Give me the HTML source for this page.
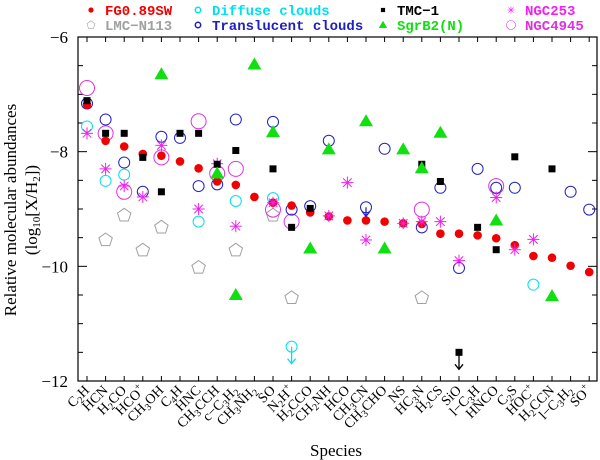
<!DOCTYPE html>
<html><head><meta charset="utf-8"><style>
body{margin:0;background:#fff}
svg{display:block}
.lg{font-family:"Liberation Mono",monospace;font-weight:bold;font-size:14px}
.ax{font-family:"Liberation Serif",serif}
</style></head><body>
<svg id="chart" width="600" height="460" xmlns="http://www.w3.org/2000/svg"></svg>
<script>
const categories=[["C",["2","sub"],"H"],["HCN"],["H",["2","sub"],"CO"],["HCO",["+","sup"]],["CH",["3","sub"],"OH"],["C",["4","sub"],"H"],["HNC"],["CH",["3","sub"],"CCH"],["c\u2212C",["3","sub"],"H",["2","sub"]],["CH",["3","sub"],"NH",["2","sub"]],["SO"],["N",["2","sub"],"H",["+","sup"]],["H",["2","sub"],"CCO"],["CH",["2","sub"],"NH"],["HCO"],["CH",["3","sub"],"CN"],["CH",["3","sub"],"CHO"],["NS"],["HC",["3","sub"],"N"],["H",["2","sub"],"CS"],["SiO"],["l\u2212C",["3","sub"],"H"],["HNCO"],["C",["2","sub"],"S"],["HOC",["+","sup"]],["H",["2","sub"],"CCN"],["l\u2212C",["3","sub"],"H",["2","sub"]],["SO",["+","sup"]]];
const N=null;
const fgValues=[-7.18,-7.81,-7.91,-8.04,-8.07,-8.17,-8.29,-8.52,-8.58,-8.79,-8.89,-8.94,-9.06,-9.13,-9.20,-9.20,-9.22,-9.25,-9.26,-9.43,-9.43,-9.46,-9.51,-9.63,-9.82,-9.85,-9.99,-10.10];
const lmcValues=[N,-9.54,-9.11,-9.72,-9.32,N,-10.02,N,-9.72,N,-9.11,-10.55,N,N,N,N,N,N,-10.55,N,N,N,N,N,N,N,N,N];
const diffuseValues=[-7.56,-8.51,-8.40,N,N,N,-9.22,N,-8.86,N,-8.81,-11.4,N,N,N,N,N,N,N,N,N,N,N,N,-10.32,N,N,N];
const translucentValues=[-7.16,-7.44,-8.19,-8.70,-7.74,-7.76,-8.60,-8.57,-7.44,N,-7.48,-9.01,-8.95,-7.81,N,-8.97,-7.95,N,-9.32,-8.63,-10.03,-8.30,-8.63,-8.63,N,N,-8.70,-9.01];
const tmcValues=[-7.11,-7.68,-7.68,-8.10,-8.70,-7.68,-7.68,-8.22,-7.98,N,-8.30,-9.32,-8.99,N,N,N,N,N,-8.22,-8.52,-11.5,-9.32,-9.71,-8.09,N,-8.30,N,N];
const sgrValues=[N,N,N,N,-6.65,N,N,-8.38,-10.5,-6.48,-7.66,N,-9.69,-7.96,N,-7.47,-9.69,-7.96,-8.29,-7.67,N,N,-9.20,N,N,-10.52,N,N];
const ngc253Values=[-7.68,-8.30,-8.60,-8.79,-7.89,N,-9.00,-8.21,-9.30,N,-8.89,N,N,-9.12,-8.54,-9.54,N,-9.25,-9.22,-9.22,-9.90,N,-8.80,-9.71,-9.53,N,N,N];
const ngc4945Values=[-6.89,-7.68,-8.70,N,-8.10,N,-7.47,-8.38,-8.30,N,-9.01,-9.22,N,N,N,N,N,N,-9.01,N,N,N,-8.60,N,N,N,N,N];
const upperLimits=[["diffuse",11],["tmc",20],["translucent",15]];
const yTicks=[-6,-8,-10,-12];

const svg=document.getElementById('chart');const NS="http://www.w3.org/2000/svg";
const L=78,R=597,T=37,B=381;
const xs=i=>87+i*18.6;
const ys=v=>T+(-6-v)*(B-T)/6;
function mk(tag,at,parent){const e=document.createElementNS(NS,tag);for(const k in at)e.setAttribute(k,at[k]);(parent||svg).appendChild(e);return e;}

// frame
let fr=mk('rect',{x:L,y:T,width:R-L,height:B-T,fill:'none',stroke:'#000','stroke-width':1.2});


for(let v=-6;v>=-12;v-=0.5){const big=Number.isInteger(v/2*1)&&v%2===0;const len=big?9:5;
 mk('line',{x1:L,x2:L+len,y1:ys(v),y2:ys(v),stroke:'#000'});mk('line',{x1:R,x2:R-len,y1:ys(v),y2:ys(v),stroke:'#000'});}
yTicks.forEach(v=>{const t=mk('text',{x:L-10,y:ys(v)+6,'text-anchor':'end','font-size':17,class:'ax'});t.textContent='\u2212'+Math.abs(v);
 
 });
categories.forEach((c,i)=>{const x=xs(i);
 mk('line',{x1:x,x2:x,y1:B,y2:B-5,stroke:'#000'});mk('line',{x1:x,x2:x,y1:T,y2:T+5,stroke:'#000'});
 const t=mk('text',{x:x+3,y:B+10,'text-anchor':'end','font-size':14,class:'ax',transform:`rotate(-45 ${x+3} ${B+10})`});
 
 
 c.forEach(p=>{const s=document.createElementNS(NS,'tspan');
  if(typeof p==='string'){s.textContent=p;}else{s.textContent=p[0];s.setAttribute('font-size',10);s.setAttribute('baseline-shift',p[1]==='sub'?'-3':'6');}
  t.appendChild(s);});
});
let xt=mk('text',{x:336,y:456,'text-anchor':'middle','font-size':17,class:'ax'});xt.textContent='Species';


let yt=mk('text',{transform:'translate(16,210) rotate(-90)','text-anchor':'middle','font-size':17,class:'ax'});yt.textContent='Relative molecular abundances';


let yt2=mk('text',{transform:'translate(37,210) rotate(-90)','text-anchor':'middle','font-size':17,class:'ax'});
yt2.innerHTML='(log<tspan font-size="11" baseline-shift="-3">10</tspan>[X/H<tspan font-size="11" baseline-shift="-3">2</tspan>])';



function star(g,x,y,c){for(let a=0;a<4;a++){const ang=a*Math.PI/4;mk('line',{x1:x-6*Math.cos(ang),y1:y-6*Math.sin(ang),x2:x+6*Math.cos(ang),y2:y+6*Math.sin(ang),stroke:c,'stroke-width':1},g);}}
function pent(g,x,y,r,c){let p=[];for(let k=0;k<5;k++){const a=-Math.PI/2+k*2*Math.PI/5;p.push((x+r*Math.cos(a)).toFixed(1)+','+(y+r*Math.sin(a)).toFixed(1));}mk('polygon',{points:p.join(' '),fill:'none',stroke:c,'stroke-width':1},g);}
const marks={
 fg:(g,x,y)=>mk('circle',{cx:x,cy:y,r:4.3,fill:'#f00000'},g),
 lmc:(g,x,y)=>pent(g,x,y,7,'#a0a0a0'),
 diffuse:(g,x,y)=>mk('circle',{cx:x,cy:y,r:5.5,fill:'none',stroke:'#00e0f0','stroke-width':1},g),
 translucent:(g,x,y)=>mk('circle',{cx:x,cy:y,r:5.5,fill:'none',stroke:'#2020c0','stroke-width':1},g),
 tmc:(g,x,y)=>mk('rect',{x:x-3.5,y:y-3.5,width:7,height:7,fill:'#000'},g),
 sgr:(g,x,y)=>mk('polygon',{points:`${x},${y-7} ${x-7},${y+5} ${x+7},${y+5}`,fill:'#10e010'},g),
 ngc253:(g,x,y)=>star(g,x,y,'#f020f0'),
 ngc4945:(g,x,y)=>mk('circle',{cx:x,cy:y,r:7.5,fill:'none',stroke:'#e030e0','stroke-width':1},g)
};
const series=[["lmc",lmcValues],["ngc4945",ngc4945Values],["translucent",translucentValues],["diffuse",diffuseValues],["fg",fgValues],["ngc253",ngc253Values],["tmc",tmcValues],["sgr",sgrValues]];
const colors={diffuse:'#00e0f0',tmc:'#000',translucent:'#2020c0'};
series.forEach(([k,vals])=>{const g=mk('g',{});
 
 
 vals.forEach((v,i)=>{if(v===null)return;marks[k](g,xs(i),ys(v));});});
upperLimits.forEach(([k,i])=>{const vals={diffuse:diffuseValues,tmc:tmcValues,translucent:translucentValues}[k];
 const x=xs(i),y=ys(vals[i]);const c=colors[k];const len=k==='translucent'?9:17;
 const g=mk('g',{});
 
 
 mk('line',{x1:x,y1:y,x2:x,y2:y+len,stroke:c,'stroke-width':1.3},g);
 mk('polyline',{points:`${x-4},${y+len-5} ${x},${y+len} ${x+4},${y+len-5}`,fill:'none',stroke:c,'stroke-width':1.3},g);});

// legend
const legend=[["fg","FG0.89SW","#f00000",91,10],["diffuse","Diffuse clouds","#00e0f0",198,10],["tmc","TMC\u22121","#000",383,10],["ngc253","NGC253","#f020f0",511,10],
 ["lmc","LMC\u2212N113","#a0a0a0",91,25],["translucent","Translucent clouds","#2020c0",198,25],["sgr","SgrB2(N)","#10e010",383,25],["ngc4945","NGC4945","#e030e0",511,25]];
legend.forEach(([k,label,c,x,y])=>{const g=mk('g',{});
 
 
 const gm=mk('g',{transform:`translate(${x},${y}) scale(0.6) translate(${-x},${-y})`},g);
 if(k==='diffuse'||k==='translucent')mk('circle',{cx:x,cy:y,r:4.5,fill:'none',stroke:c,'stroke-width':2.5},gm);else marks[k](gm,x,y);
 const t=mk('text',{x:x+14,y:y+5,fill:c,class:'lg'},g);t.textContent=label;});
</script>
</body></html>
